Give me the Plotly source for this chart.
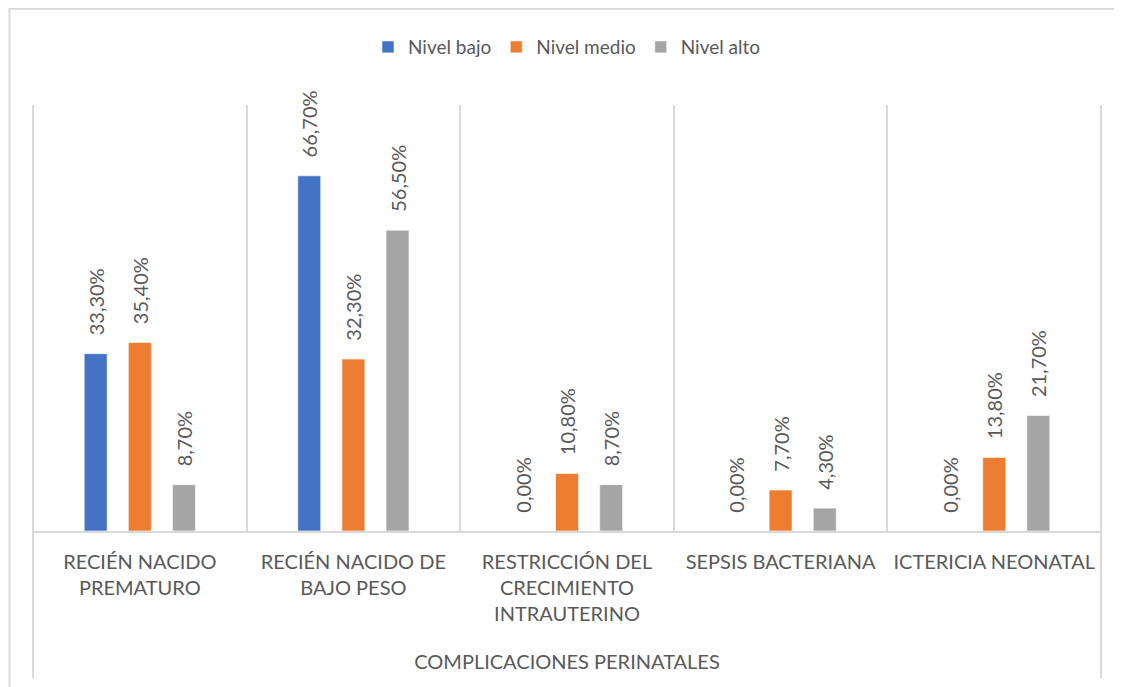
import plotly.graph_objects as go

categorias = [
    "RECIÉN NACIDO<br>PREMATURO",
    "RECIÉN NACIDO DE<br>BAJO PESO",
    "RESTRICCIÓN DEL<br>CRECIMIENTO<br>INTRAUTERINO",
    "SEPSIS BACTERIANA",
    "ICTERICIA NEONATAL",
]
nivel_bajo = [33.3, 66.7, 0.0, 0.0, 0.0]
nivel_medio = [35.4, 32.3, 10.8, 7.7, 13.8]
nivel_alto = [8.7, 56.5, 8.7, 4.3, 21.7]

series = [
    ("Nivel bajo", nivel_bajo, "#4472C4"),
    ("Nivel medio", nivel_medio, "#ED7D31"),
    ("Nivel alto", nivel_alto, "#A5A5A5"),
]

gris_texto = "#595959"
gris_linea = "#D9D9D9"
fuente = "Lato, 'Liberation Sans', sans-serif"

fig = go.Figure()
for nombre, valores, color in series:
    fig.add_trace(
        go.Bar(
            x=categorias,
            y=valores,
            name=nombre,
            marker=dict(color=color, line=dict(color="white", width=0.6)),
            # espacios duros al inicio para separar la etiqueta de la barra
            texttemplate="\u00a0\u00a0\u00a0%{y:.2f}%",
            textposition="outside",
            textangle=-90,
            constraintext="none",
            cliponaxis=False,
            textfont=dict(color=gris_texto, size=20, family=fuente),
        )
    )

# la página añade 8 px de margen arriba y a la izquierda
fig.update_layout(
    width=1122,
    height=687,
    margin=dict(l=25, r=29, t=97, b=164),
    paper_bgcolor="white",
    plot_bgcolor="white",
    separators=",.",
    barmode="group",
    bargap=0.38,
    bargroupgap=0.48,
    font=dict(family=fuente, color=gris_texto),
    showlegend=True,
    legend=dict(
        orientation="h",
        x=0.5,
        xanchor="center",
        y=1.136,
        yanchor="middle",
        font=dict(size=19, color=gris_texto),
        itemwidth=30,
    ),
    xaxis=dict(
        type="category",
        tickson="boundaries",
        showgrid=True,
        gridcolor=gris_linea,
        gridwidth=2,
        showline=True,
        linecolor=gris_linea,
        linewidth=2,
        ticks="",
        tickangle=0,
        ticklabelstandoff=12,
        tickfont=dict(size=20, color=gris_texto),
        title=dict(
            text="COMPLICACIONES PERINATALES",
            font=dict(size=20, color=gris_texto),
            standoff=31,
        ),
    ),
    yaxis=dict(
        range=[0, 80],
        visible=False,
        showgrid=False,
        zeroline=False,
    ),
)

# bordes exteriores del área de categorías y marco del gráfico
for xp in (0, 1):
    fig.add_shape(
        type="line", xref="paper", yref="paper",
        x0=xp, x1=xp, y0=1, y1=-0.345,
        line=dict(color=gris_linea, width=2),
    )
fig.add_shape(
    type="rect", xref="paper", yref="paper",
    x0=-0.022, x1=1.05, y0=1.226, y1=-0.5,
    line=dict(color=gris_linea, width=2),
    layer="below",
)

fig.write_html("out.html")
